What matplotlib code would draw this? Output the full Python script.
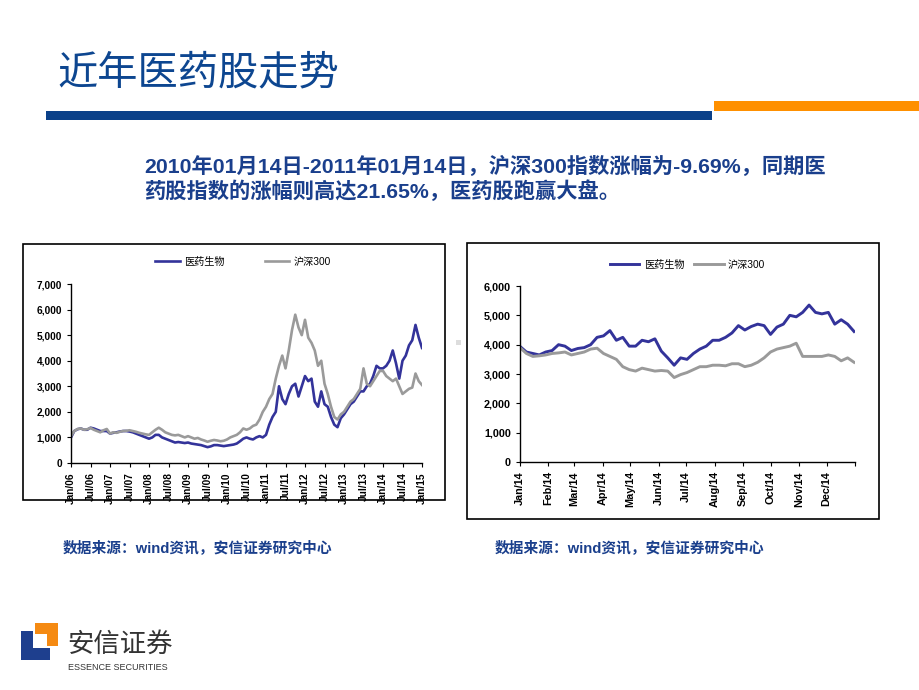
import matplotlib
matplotlib.use('Agg')
import matplotlib.pyplot as plt
import numpy as np
from matplotlib.patches import Rectangle, Polygon
from matplotlib.ticker import FuncFormatter

plt.rcParams['font.family'] = ['Liberation Sans', 'Noto Sans CJK SC']

#------------------------------------------------------------------------------
# data: left chart, monthly closes Jan/06 .. Jan/15
pharma_long = [1000, 1250, 1320, 1350, 1300, 1300, 1380, 1350, 1300, 1250, 1250, 1250,
               1150, 1180, 1200, 1230, 1250, 1250, 1230, 1200, 1150, 1100, 1050, 1000,
               950, 1000, 1100, 1100, 1000, 950, 900, 850, 800, 820, 800, 780,
               800, 760, 740, 720, 700, 660, 620, 650, 700, 700, 680, 660,
               680, 700, 720, 760, 850, 950, 1000, 950, 920, 1000, 1050, 1000,
               1100, 1500, 1800, 2000, 3000, 2500, 2300, 2700, 3000, 3100, 2600, 3000,
               3400, 3200, 3300, 2400, 2200, 2800, 2300, 2200, 1800, 1500, 1400, 1750,
               1900, 2100, 2300, 2400, 2600, 2800, 2800, 3000, 3100, 3400, 3800, 3700,
               3700, 3800, 4000, 4400, 3900, 3300, 4000, 4200, 4600, 4800, 5400, 4900,
               4500]
hs300_long = [1050, 1250, 1330, 1350, 1300, 1320, 1370, 1300, 1250, 1200, 1280, 1330,
              1150, 1200, 1180, 1220, 1250, 1260, 1280, 1250, 1220, 1180, 1150, 1120,
              1100, 1200, 1300, 1380, 1300, 1200, 1150, 1100, 1080, 1100, 1050, 1000,
              1050, 1000, 950, 980, 920, 880, 830, 870, 900, 880, 850, 870,
              920, 1000, 1050, 1100, 1200, 1350, 1300, 1350, 1450, 1500, 1700, 2000,
              2200, 2500, 2700, 3300, 3800, 4200, 3700, 4400, 5200, 5800, 5300, 5000,
              5600, 4900, 4700, 4400, 3800, 4000, 3100, 2700, 2200, 1800, 1700, 1900,
              2000, 2200, 2400, 2500, 2700, 2900, 3700, 3100, 3000, 3200, 3400, 3600,
              3600, 3400, 3300, 3200, 3300, 3000, 2700, 2800, 2900, 2950, 3500, 3200,
              3050]
long_ticks = ['Jan/06', 'Jul/06', 'Jan/07', 'Jul/07', 'Jan/08', 'Jul/08', 'Jan/09', 'Jul/09',
              'Jan/10', 'Jul/10', 'Jan/11', 'Jul/11', 'Jan/12', 'Jul/12', 'Jan/13', 'Jul/13',
              'Jan/14', 'Jul/14', 'Jan/15']

# data: right chart, weekly closes during 2014
pharma_2014 = [3940, 3750, 3700, 3650, 3750, 3800, 4000, 3950, 3800, 3870, 3900, 4000,
               4250, 4300, 4480, 4150, 4250, 3950, 3950, 4150, 4100, 4200, 3780, 3550,
               3300, 3550, 3500, 3700, 3850, 3950, 4150, 4150, 4250, 4400, 4650, 4500,
               4620, 4700, 4650, 4350, 4600, 4700, 5000, 4950, 5100, 5350, 5100, 5050,
               5100, 4700, 4850, 4700, 4450]
hs300_2014 = [3900, 3700, 3600, 3620, 3650, 3700, 3720, 3750, 3650, 3700, 3750, 3850,
              3880, 3700, 3600, 3500, 3250, 3150, 3100, 3200, 3150, 3100, 3120, 3100,
              2880, 2980, 3050, 3150, 3250, 3250, 3300, 3300, 3280, 3350, 3350, 3250,
              3300, 3400, 3550, 3750, 3850, 3900, 3950, 4050, 3600, 3600, 3600, 3600,
              3650, 3600, 3450, 3550, 3400]
month_starts = [0, 31, 59, 90, 120, 151, 181, 212, 243, 273, 304, 334]
month_ticks = ['Jan/14', 'Feb/14', 'Mar/14', 'Apr/14', 'May/14', 'Jun/14', 'Jul/14',
               'Aug/14', 'Sep/14', 'Oct/14', 'Nov/14', 'Dec/14']

#------------------------------------------------------------------------------
BLUE_TXT = '#1A3F8C'
LINE_BLUE = '#33339A'
LINE_GRAY = '#9A9A9A'

fig = plt.figure(figsize=(9.2, 6.9), dpi=100)
fig.patch.set_facecolor('white')

# page decoration in pixel coords
deco = fig.add_axes([0, 0, 1, 1])
deco.set_xlim(0, 920)
deco.set_ylim(690, 0)
deco.axis('off')

deco.text(57, 73, '近年医药股走势', fontsize=29, color='#0D4690', va='center', ha='left')
deco.add_patch(Rectangle((46, 111), 666, 9, color='#0B4189', lw=0))
deco.add_patch(Rectangle((714, 101), 206, 9.5, color='#FF9000', lw=0))

para1 = '2010年01月14日-2011年01月14日，沪深300指数涨幅为-9.69%，同期医'
para2 = '药股指数的涨幅则高达21.65%，医药股跑赢大盘。'
deco.text(144, 166, para1, fontsize=15.3, fontweight='bold', color=BLUE_TXT, va='center')
deco.text(144, 191, para2, fontsize=15.3, fontweight='bold', color=BLUE_TXT, va='center')

# chart frames
deco.add_patch(Rectangle((23, 244), 422, 256, fill=False, ec='black', lw=1.2))
deco.add_patch(Rectangle((467, 243), 412, 276, fill=False, ec='black', lw=1.2))
deco.add_patch(Rectangle((456, 340), 5, 5, color='#DDDDDD', lw=0))

src = '数据来源：wind资讯，安信证券研究中心'
deco.text(63, 548, src, fontsize=10.6, fontweight='bold', color=BLUE_TXT, va='center')
deco.text(495, 548, src, fontsize=10.6, fontweight='bold', color=BLUE_TXT, va='center')

# logo
deco.add_patch(Polygon([(21, 631), (33, 631), (33, 648), (50, 648), (50, 660), (21, 660)],
                       closed=True, color='#1E3F8E', lw=0))
deco.add_patch(Polygon([(35, 623), (58, 623), (58, 646), (47, 646), (47, 634), (35, 634)],
                       closed=True, color='#F58A12', lw=0))
deco.text(67, 644, '安信证券', fontsize=19, color='#333333', va='center')
deco.text(68, 668, 'ESSENCE SECURITIES', fontsize=6.5, color='#333333', va='center')


def style_axis(ax, fs):
    ax.set_facecolor('none')
    for s in ['top', 'right']:
        ax.spines[s].set_visible(False)
    for s in ['left', 'bottom']:
        ax.spines[s].set_linewidth(1.0)
    ax.tick_params(axis='both', length=3, width=0.8, labelsize=fs, direction='out')
    ax.yaxis.set_major_formatter(FuncFormatter(lambda v, p: '{:,.0f}'.format(v)))
    for lab in ax.get_xticklabels() + ax.get_yticklabels():
        lab.set_fontweight('bold')


#------------------------------------------------------------------------------
# left: 2006 - 2015
ax1 = fig.add_axes([0.0772, 0.329, 0.3815, 0.2594])
xm = np.arange(len(pharma_long))
ax1.plot(xm, pharma_long, color=LINE_BLUE, lw=1.9, label='医药生物')
ax1.plot(xm, hs300_long, color=LINE_GRAY, lw=1.9, label='沪深300')
ax1.set_xlim(0, 108)
ax1.set_ylim(0, 7000)
ax1.set_yticks(np.arange(0, 7001, 1000))
ax1.set_xticks(np.arange(0, 109, 6))
ax1.set_xticklabels(long_ticks, rotation=90)
style_axis(ax1, 7.3)
ax1.legend(loc='center', bbox_to_anchor=(0.49, 1.123), ncol=2, frameon=False, fontsize=7.3,
           handlelength=2.4, columnspacing=4.0, handletextpad=0.4)

#------------------------------------------------------------------------------
# right: 2014
ax2 = fig.add_axes([0.5652, 0.3304, 0.3641, 0.2551])
xd = np.arange(len(pharma_2014)) * 7
ax2.plot(xd, pharma_2014, color=LINE_BLUE, lw=2.1, label='医药生物')
ax2.plot(xd, hs300_2014, color=LINE_GRAY, lw=2.1, label='沪深300')
ax2.set_xlim(0, 365)
ax2.set_ylim(0, 6000)
ax2.set_yticks(np.arange(0, 6001, 1000))
ax2.set_xticks(month_starts + [365])
ax2.set_xticklabels(month_ticks + [''], rotation=90)
style_axis(ax2, 7.8)
ax2.legend(loc='center', bbox_to_anchor=(0.50, 1.12), ncol=2, frameon=False, fontsize=7.3,
           handlelength=2.9, columnspacing=1.0, handletextpad=0.4)

fig.savefig('out.png', dpi=100)
